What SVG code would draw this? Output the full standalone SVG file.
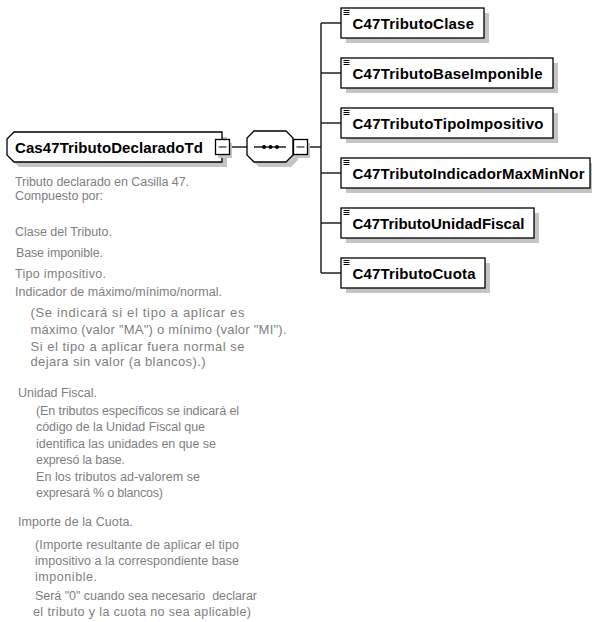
<svg xmlns="http://www.w3.org/2000/svg" width="592" height="622" viewBox="0 0 592 622">
<style>
.shadow{fill:#c4c4c4;stroke:none}
.box{fill:#fff;stroke:#000;stroke-width:1.3}
.lbl{font-family:"Liberation Sans",Arial,sans-serif;font-weight:bold;font-size:15px;fill:#000}
.desc{font-family:"Liberation Sans",Arial,sans-serif;font-size:12.5px;fill:#808080;white-space:pre}
.big{font-size:13px}
.conn{stroke:#222;stroke-width:1.5;fill:none}
.icon{stroke:#000;stroke-width:1;fill:none}
</style>
<defs>
<path id="ico" d="M0,0.5h6M0,2.5h6M0,4.5h6"/>
</defs>
<rect width="592" height="622" fill="#fff"/>

<g id="connectors">
<line class="conn" x1="229" y1="147" x2="247" y2="147"/>
<line class="conn" x1="308" y1="147" x2="321" y2="147"/>
<line class="conn" x1="321" y1="23" x2="321" y2="273"/>
<line class="conn" x1="321" y1="23" x2="341" y2="23"/>
<line class="conn" x1="321" y1="73" x2="341" y2="73"/>
<line class="conn" x1="321" y1="123" x2="341" y2="123"/>
<line class="conn" x1="321" y1="173" x2="341" y2="173"/>
<line class="conn" x1="321" y1="223" x2="341" y2="223"/>
<line class="conn" x1="321" y1="273" x2="341" y2="273"/>
</g>

<g id="Cas47TributoDeclaradoTd">
<path class="shadow" d="M19,137H227V167H19L12,160V144Z"/>
<path class="box" d="M14,132H222V162H14L7,155V139Z"/>
<text class="lbl" x="15" y="153" textLength="188" lengthAdjust="spacing">Cas47TributoDeclaradoTd</text>
<rect class="shadow" x="218" y="143" width="14" height="15"/>
<rect class="box" x="215.5" y="139.5" width="14" height="15"/>
<line class="icon" x1="218.5" y1="147" x2="226.5" y2="147"/>
</g>

<g id="sequence">
<path class="shadow" d="M259,136H291L298,143V160L291,167H259L252,160V143Z"/>
<path class="box" d="M254,131H286L293,138V155L286,162H254L247,155V138Z"/>
<line x1="254" y1="147" x2="286" y2="147" stroke="#000" stroke-width="1.3"/>
<circle cx="264" cy="147" r="2" fill="#000"/>
<circle cx="270.5" cy="147" r="2" fill="#000"/>
<circle cx="277" cy="147" r="2" fill="#000"/>
<rect class="shadow" x="296" y="143" width="14" height="15"/>
<rect class="box" x="293.5" y="139.5" width="14" height="15"/>
<line class="icon" x1="296.5" y1="147" x2="304.5" y2="147"/>
</g>

<g id="C47TributoClase">
<rect class="shadow" x="346" y="13" width="143" height="30"/>
<rect class="box" x="341" y="8" width="143" height="30"/>
<use href="#ico" x="343.5" y="10" class="icon"/>
<text class="lbl" x="352.5" y="28.5" textLength="121.5" lengthAdjust="spacing">C47TributoClase</text>
</g>
<g id="C47TributoBaseImponible">
<rect class="shadow" x="346" y="63" width="212" height="30"/>
<rect class="box" x="341" y="58" width="212" height="30"/>
<use href="#ico" x="343.5" y="60" class="icon"/>
<text class="lbl" x="352.5" y="78.5" textLength="190" lengthAdjust="spacing">C47TributoBaseImponible</text>
</g>
<g id="C47TributoTipoImpositivo">
<rect class="shadow" x="346" y="113" width="212" height="30"/>
<rect class="box" x="341" y="108" width="212" height="30"/>
<use href="#ico" x="343.5" y="110" class="icon"/>
<text class="lbl" x="352.5" y="128.5" textLength="191" lengthAdjust="spacing">C47TributoTipoImpositivo</text>
</g>
<g id="C47TributoIndicadorMaxMinNor">
<rect class="shadow" x="346" y="163" width="249" height="30"/>
<rect class="box" x="341" y="158" width="249" height="30"/>
<use href="#ico" x="343.5" y="160" class="icon"/>
<text class="lbl" x="352.5" y="178.5" textLength="232" lengthAdjust="spacing">C47TributoIndicadorMaxMinNor</text>
</g>
<g id="C47TributoUnidadFiscal">
<rect class="shadow" x="346" y="213" width="193" height="30"/>
<rect class="box" x="341" y="208" width="193" height="30"/>
<use href="#ico" x="343.5" y="210" class="icon"/>
<text class="lbl" x="352.5" y="228.5" textLength="172" lengthAdjust="spacing">C47TributoUnidadFiscal</text>
</g>
<g id="C47TributoCuota">
<rect class="shadow" x="346" y="263" width="144" height="30"/>
<rect class="box" x="341" y="258" width="144" height="30"/>
<use href="#ico" x="343.5" y="260" class="icon"/>
<text class="lbl" x="352.5" y="278.5" textLength="123" lengthAdjust="spacing">C47TributoCuota</text>
</g>

<g id="description">
<text class="desc" x="15" y="186" textLength="174" lengthAdjust="spacing">Tributo declarado en Casilla 47.</text>
<text class="desc" x="15" y="200" textLength="88" lengthAdjust="spacing">Compuesto por:</text>
<text class="desc" x="15" y="236" textLength="97" lengthAdjust="spacing">Clase del Tributo.</text>
<text class="desc" x="16" y="257" textLength="87" lengthAdjust="spacing">Base imponible.</text>
<text class="desc" x="15" y="278" textLength="91" lengthAdjust="spacing">Tipo impositivo.</text>
<text class="desc" x="15" y="296" textLength="207" lengthAdjust="spacing">Indicador de máximo/mínimo/normal.</text>
<text class="desc big" x="30.5" y="317" textLength="214" lengthAdjust="spacing">(Se indicará si el tipo a aplicar es</text>
<text class="desc big" x="30.5" y="334" textLength="256" lengthAdjust="spacing">máximo (valor "MA") o mínimo (valor "MI").</text>
<text class="desc big" x="30.5" y="351" textLength="214" lengthAdjust="spacing">Si el tipo a aplicar fuera normal se</text>
<text class="desc big" x="30.5" y="366" textLength="175" lengthAdjust="spacing">dejara sin valor (a blancos).)</text>
<text class="desc" x="18" y="397" textLength="79" lengthAdjust="spacing">Unidad Fiscal.</text>
<text class="desc" x="36" y="415" textLength="203" lengthAdjust="spacing">(En tributos específicos se indicará el</text>
<text class="desc" x="36" y="431" textLength="169" lengthAdjust="spacing">código de la Unidad Fiscal que</text>
<text class="desc" x="36" y="448" textLength="180" lengthAdjust="spacing">identifica las unidades en que se</text>
<text class="desc" x="36" y="464" textLength="89" lengthAdjust="spacing">expresó la base.</text>
<text class="desc" x="36" y="481" textLength="164" lengthAdjust="spacing">En los tributos ad-valorem se</text>
<text class="desc" x="36" y="497" textLength="127" lengthAdjust="spacing">expresará % o blancos)</text>
<text class="desc" x="18" y="526" textLength="115" lengthAdjust="spacing">Importe de la Cuota.</text>
<text class="desc" x="35" y="549" textLength="204" lengthAdjust="spacing">(Importe resultante de aplicar el tipo</text>
<text class="desc" x="35" y="565" textLength="204" lengthAdjust="spacing">impositivo a la correspondiente base</text>
<text class="desc" x="35" y="581" textLength="62" lengthAdjust="spacing">imponible.</text>
<text class="desc" x="35" y="600" textLength="222" lengthAdjust="spacing">Será "0" cuando sea necesario  declarar</text>
<text class="desc" x="33" y="616" textLength="218" lengthAdjust="spacing">el tributo y la cuota no sea aplicable)</text>
</g>
</svg>
